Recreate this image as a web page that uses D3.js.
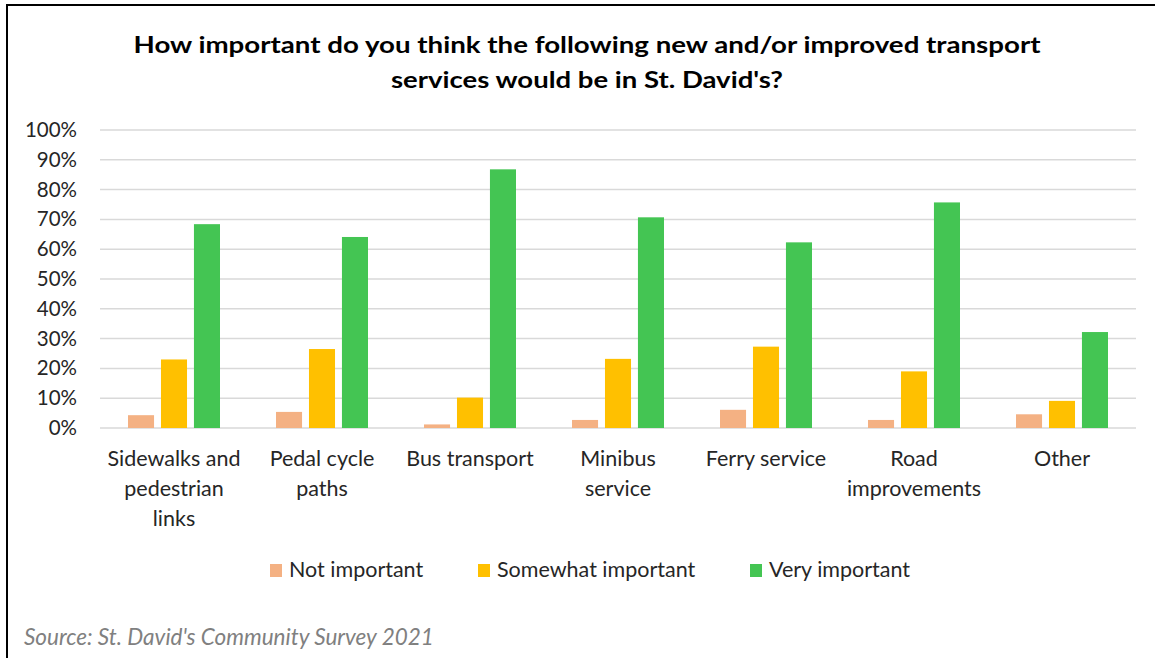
<!DOCTYPE html>
<html>
<head>
<meta charset="utf-8">
<script src="https://cdn.jsdelivr.net/npm/d3@7"></script>
<style>
  body { margin: 0; background: #fff; }
  text { font-family: Lato, "Open Sans", sans-serif; }
</style>
</head>
<body>
<div id="chart"></div>
<script>
// data
var categories = ["Sidewalks and\npedestrian\nlinks", "Pedal cycle\npaths", "Bus transport", "Minibus\nservice", "Ferry service", "Road\nimprovements", "Other"];
var seriesNames = ["Not important", "Somewhat important", "Very important"];
var notImportant = [4.3, 5.4, 1.2, 2.7, 6.1, 2.7, 4.6];
var somewhatImportant = [23.0, 26.5, 10.2, 23.2, 27.3, 19.0, 9.1];
var veryImportant = [68.4, 64.1, 86.8, 70.7, 62.3, 75.7, 32.2];
var yTicks = [0, 10, 20, 30, 40, 50, 60, 70, 80, 90, 100];
var colors = ["#f4b183", "#ffc000", "#44c553"];

var W = 1155, H = 658;
var margin = { top: 130, right: 19, bottom: 230, left: 100 },
  width = W - margin.left - margin.right,
  height = H - margin.top - margin.bottom;

var svg = d3.select("#chart")
  .append("svg")
  .attr("width", W)
  .attr("height", H);

// frame (top and left edges visible)
svg.append("line").attr("x1", 6).attr("x2", W).attr("y1", 5).attr("y2", 5)
  .attr("stroke", "#000").attr("stroke-width", 2);
svg.append("line").attr("x1", 7).attr("x2", 7).attr("y1", 5).attr("y2", H)
  .attr("stroke", "#000").attr("stroke-width", 2);

// title
var titleLines = ["How important do you think the following new and/or improved transport", "services would be in St. David's?"];
var titleWidths = [907, 392];
svg.selectAll(".title")
  .data(titleLines)
  .enter().append("text")
  .attr("class", "title")
  .attr("x", 587)
  .attr("y", function (d, i) { return 53 + i * 35; })
  .attr("text-anchor", "middle")
  .attr("font-size", 23)
  .attr("font-weight", "bold")
  .attr("textLength", function (d, i) { return titleWidths[i]; })
  .attr("lengthAdjust", "spacingAndGlyphs")
  .text(function (d) { return d; });

var g = svg.append("g")
  .attr("transform", "translate(" + margin.left + "," + margin.top + ")");

var y = d3.scaleLinear().domain([0, 100]).range([height, 0]);
var x = d3.scaleBand().domain(categories).range([0, width]);
var x1 = d3.scaleBand().domain(seriesNames).range([0, 92]).paddingInner(0.21);

// gridlines
g.selectAll(".grid")
  .data(yTicks)
  .enter().append("line")
  .attr("x1", 0).attr("x2", width)
  .attr("y1", function (d) { return y(d); })
  .attr("y2", function (d) { return y(d); })
  .attr("stroke", "#d9d9d9")
  .attr("stroke-width", 1.5);

// y axis
var yAxis = g.append("g")
  .call(d3.axisLeft(y).tickValues(yTicks).tickFormat(function (d) { return d + "%"; }).tickSize(0).tickPadding(23));
yAxis.select(".domain").remove();
yAxis.selectAll("text")
  .attr("font-family", "Lato, sans-serif")
  .attr("font-size", 20.5)
  .attr("fill", "#262626");

// bars
var series = [notImportant, somewhatImportant, veryImportant];
series.forEach(function (vals, s) {
  g.selectAll(".bar" + s)
    .data(vals)
    .enter().append("rect")
    .attr("x", function (d, i) { return x(categories[i]) + x.bandwidth() / 2 - 46 + x1(seriesNames[s]); })
    .attr("width", x1.bandwidth())
    .attr("y", function (d) { return y(d); })
    .attr("height", function (d) { return height - y(d); })
    .attr("fill", colors[s]);
});

// x labels
var xl = g.selectAll(".xlabel")
  .data(categories)
  .enter().append("text")
  .attr("text-anchor", "middle")
  .attr("font-size", 21.5)
  .attr("fill", "#262626")
  .attr("transform", function (d) { return "translate(" + (x(d) + x.bandwidth() / 2) + "," + (height + 38) + ")"; });
xl.selectAll("tspan")
  .data(function (d) { return d.split("\n"); })
  .enter().append("tspan")
  .attr("x", 0)
  .attr("y", function (d, i) { return i * 30; })
  .text(function (d) { return d; });

// legend
var legendX = [270, 478, 750];
var leg = svg.selectAll(".legend")
  .data(seriesNames)
  .enter().append("g")
  .attr("transform", function (d, i) { return "translate(" + legendX[i] + ",564)"; });
leg.append("rect")
  .attr("width", 12).attr("height", 13)
  .attr("fill", function (d, i) { return colors[i]; });
leg.append("text")
  .attr("x", 19).attr("y", 13)
  .attr("font-size", 21.5)
  .attr("fill", "#262626")
  .text(function (d) { return d; });

// source note
svg.append("text")
  .attr("x", 24).attr("y", 645)
  .attr("font-size", 22.5)
  .attr("font-style", "italic")
  .attr("fill", "#808080")
  .text("Source: St. David's Community Survey 2021");
</script>
</body>
</html>
